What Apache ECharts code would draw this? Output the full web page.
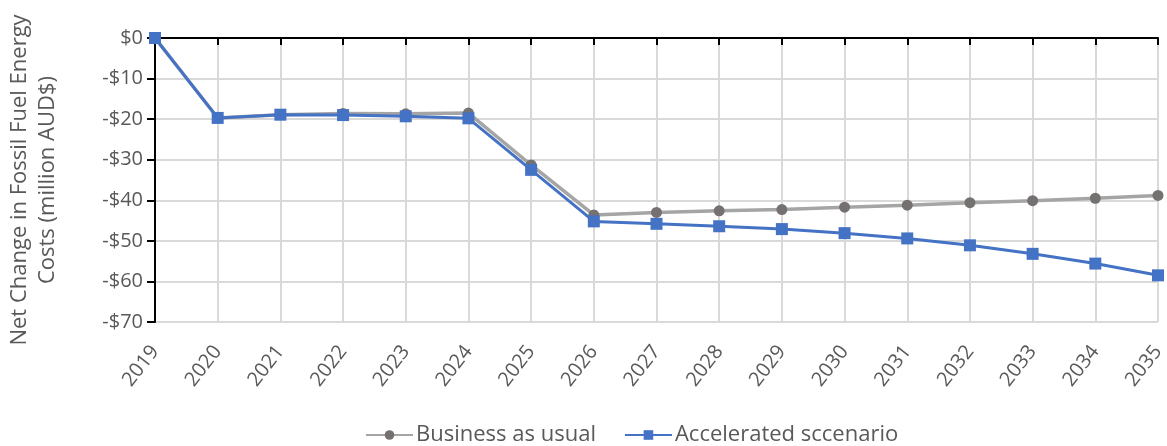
<!DOCTYPE html>
<html>
<head>
<meta charset="utf-8">
<script src="https://cdn.jsdelivr.net/npm/echarts@6/dist/echarts.min.js"></script>
<style>
  html, body { margin: 0; padding: 0; background: #fff; }
  #chart { width: 1167px; height: 446px; }
</style>
</head>
<body>
<div id="chart"></div>
<script>
const years = ['2019', '2020', '2021', '2022', '2023', '2024', '2025', '2026', '2027',
  '2028', '2029', '2030', '2031', '2032', '2033', '2034', '2035']
const businessAsUsual = [0, -19.7, -18.9, -18.6, -18.7, -18.5, -31.3, -43.6, -43.0,
  -42.6, -42.3, -41.7, -41.2, -40.6, -40.1, -39.5, -38.8]
const accelerated = [0, -19.7, -18.9, -19.0, -19.3, -19.8, -32.5, -45.2, -45.8,
  -46.4, -47.1, -48.1, -49.4, -51.1, -53.2, -55.6, -58.5]

const textColor = '#595959'
const font = '"Open Sans", Lato, sans-serif'

const chart = echarts.init(document.getElementById('chart'))

const option = {
  backgroundColor: '#fff',
  textStyle: { fontFamily: font },
  legend: {
    bottom: 0,
    left: 365,
    padding: 0,
    itemWidth: 47,
    itemHeight: 12,
    itemGap: 28,
    textStyle: { color: textColor, fontSize: 22, fontFamily: font, padding: [0, 0, 0, -2] },
    data: ['Business as usual', 'Accelerated sccenario']
  },
  grid: {
    left: 155,
    right: 9,
    top: 38,
    bottom: 124,
    outerBoundsMode: 'none'
  },
  xAxis: [
    {
      type: 'category',
      data: years,
      boundaryGap: false,
      position: 'bottom',
      axisLine: { show: false, onZero: false },
      axisTick: { show: false },
      axisLabel: {
        color: textColor,
        fontSize: 20,
        rotate: 52,
        margin: 26,
        fontFamily: font
      },
      splitLine: { show: true, lineStyle: { color: '#d9d9d9', width: 2 } }
    },
    {
      // black axis line sitting on $0 at the top, ticks pointing down
      type: 'category',
      data: years,
      boundaryGap: false,
      position: 'top',
      axisLine: { show: true, onZero: false, lineStyle: { color: '#000', width: 2 } },
      axisTick: { show: true, inside: true, length: 7, lineStyle: { color: '#000', width: 2 } },
      axisLabel: { show: false },
      splitLine: { show: false }
    }
  ],
  yAxis: {
    type: 'value',
    min: -70,
    max: 0,
    interval: 10,
    axisLine: { show: true, lineStyle: { color: '#000', width: 2 } },
    axisTick: { show: true, length: 8, lineStyle: { color: '#000', width: 2 } },
    axisLabel: {
      color: textColor,
      fontSize: 20,
      margin: 12,
      fontFamily: font,
      formatter: (v) => (v === 0 ? '$0' : '-$' + Math.abs(v))
    },
    splitLine: { lineStyle: { color: '#d9d9d9', width: 2 } },
    name: 'Net Change in Fossil Fuel Energy\nCosts (million AUD$)',
    nameLocation: 'middle',
    nameGap: 93,
    nameTextStyle: {
      color: textColor,
      fontSize: 22,
      lineHeight: 28,
      fontFamily: font
    }
  },
  series: [
    {
      name: 'Business as usual',
      type: 'line',
      data: businessAsUsual,
      symbol: 'circle',
      symbolSize: 11,
      lineStyle: { color: '#a5a5a5', width: 3.5 },
      itemStyle: { color: '#767171' },
      z: 2
    },
    {
      name: 'Accelerated sccenario',
      type: 'line',
      data: accelerated,
      symbol: 'rect',
      symbolSize: 12,
      lineStyle: { color: '#4472c4', width: 3 },
      itemStyle: { color: '#4472c4' },
      z: 3
    }
  ]
}

chart.setOption(option)
</script>
</body>
</html>
